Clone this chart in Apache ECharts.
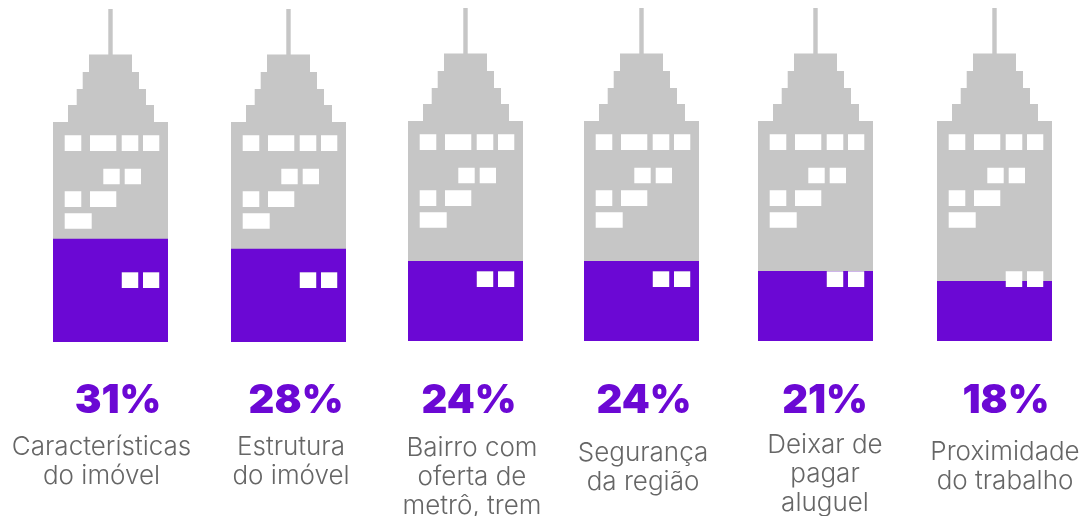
<!DOCTYPE html>
<html><head><meta charset="utf-8">
<style>html,body{margin:0;padding:0;background:#fff}#c{width:1091px;height:516px}</style>
<script src="https://cdn.jsdelivr.net/npm/echarts@6/dist/echarts.min.js"></script>
</head><body><div id="c"></div>
<script>
// data
const categories = ['Características\ndo imóvel','Estrutura\ndo imóvel','Bairro com\noferta de\nmetrô, trem','Segurança\nda região','Deixar de\npagar\naluguel','Proximidade\ndo trabalho'];
const shares = [31,28,24,24,21,18];
const fullHeight = 100;

// layout (pixels), separate from the data
const buildingLeft = [53,231,408,584,758,937];
const buildingTop = [9,9,8,8,8,8];
const buildingBottom = [342,342,341,341,341,341];
const percentX = [118,296,469,644,825,1006];
const captionX = [101.5,291,472,643,825,1005];
const captionY = [447,447,448,453,445,452];
const buildingW = 115;
const lineH = 29;

// building silhouette in its own unit space, windows wound opposite as holes
function rect(x0,y0,x1,y1){return `M${x0} ${y0}L${x0} ${y1}L${x1} ${y1}L${x1} ${y0}Z`;}
const outline = 'M55.3 0L59.7 0L59.7 45.5L79 45.5L79 63L86 63L86 80L93 80L93 96L101 96L101 113L115 113L115 333L0 333L0 113L15 113L15 96L23.7 96L23.7 80L29.7 80L29.7 63L36 63L36 45.5L55.3 45.5Z';
const windows = [
 [11.7,126.3,28.3,142],[37,126.3,63.3,142],[68.7,126.3,85.3,142],[90,126.3,106.3,142],
 [50.3,159.7,66.7,175.3],[71.7,159.7,88,175.3],
 [11.7,182.3,28.3,198],[37,182.3,63.3,198],
 [11.7,204.3,38.7,219.7],
 [68.7,263.3,85.3,279],[90,263.3,106.3,279]
];
const buildingPath = 'path://' + outline + windows.map(w=>rect(...w)).join('');

const GREY='#c6c6c6', PURPLE='#6b08d4';
const grids=[],xAxes=[],yAxes=[],series=[],graphics=[];
categories.forEach((cat,i)=>{
  grids.push({left:buildingLeft[i],width:buildingW,top:buildingTop[i],height:buildingBottom[i]-buildingTop[i],containLabel:false});
  xAxes.push({type:'category',gridIndex:i,data:[cat],show:false});
  yAxes.push({type:'value',gridIndex:i,min:0,max:fullHeight,show:false});
  const common={type:'pictorialBar',xAxisIndex:i,yAxisIndex:i,symbol:buildingPath,symbolSize:[buildingW,'100%'],symbolPosition:'start',symbolBoundingData:fullHeight,barWidth:buildingW,silent:true,animation:false};
  series.push(Object.assign({},common,{name:'Total',z:1,itemStyle:{color:GREY},data:[fullHeight]}));
  series.push(Object.assign({},common,{name:'Share',z:2,symbolClip:true,itemStyle:{color:PURPLE},data:[shares[i]]}));
  graphics.push({type:'text',silent:true,style:{x:percentX[i],y:401,text:shares[i]+'%',align:'center',verticalAlign:'middle',fill:PURPLE,font:'900 40px Inter, "Noto Sans", sans-serif'}});
  cat.split('\n').forEach((ln,k)=>{
    graphics.push({type:'text',silent:true,style:{x:captionX[i],y:captionY[i]+k*lineH,text:ln,align:'center',verticalAlign:'middle',fill:'#666666',font:'300 26px Inter, "Noto Sans", sans-serif'}});
  });
});
const chart=echarts.init(document.getElementById('c'),null,{renderer:'canvas'});
chart.setOption({animation:false,grid:grids,xAxis:xAxes,yAxis:yAxes,series:series,graphic:graphics});
</script></body></html>
